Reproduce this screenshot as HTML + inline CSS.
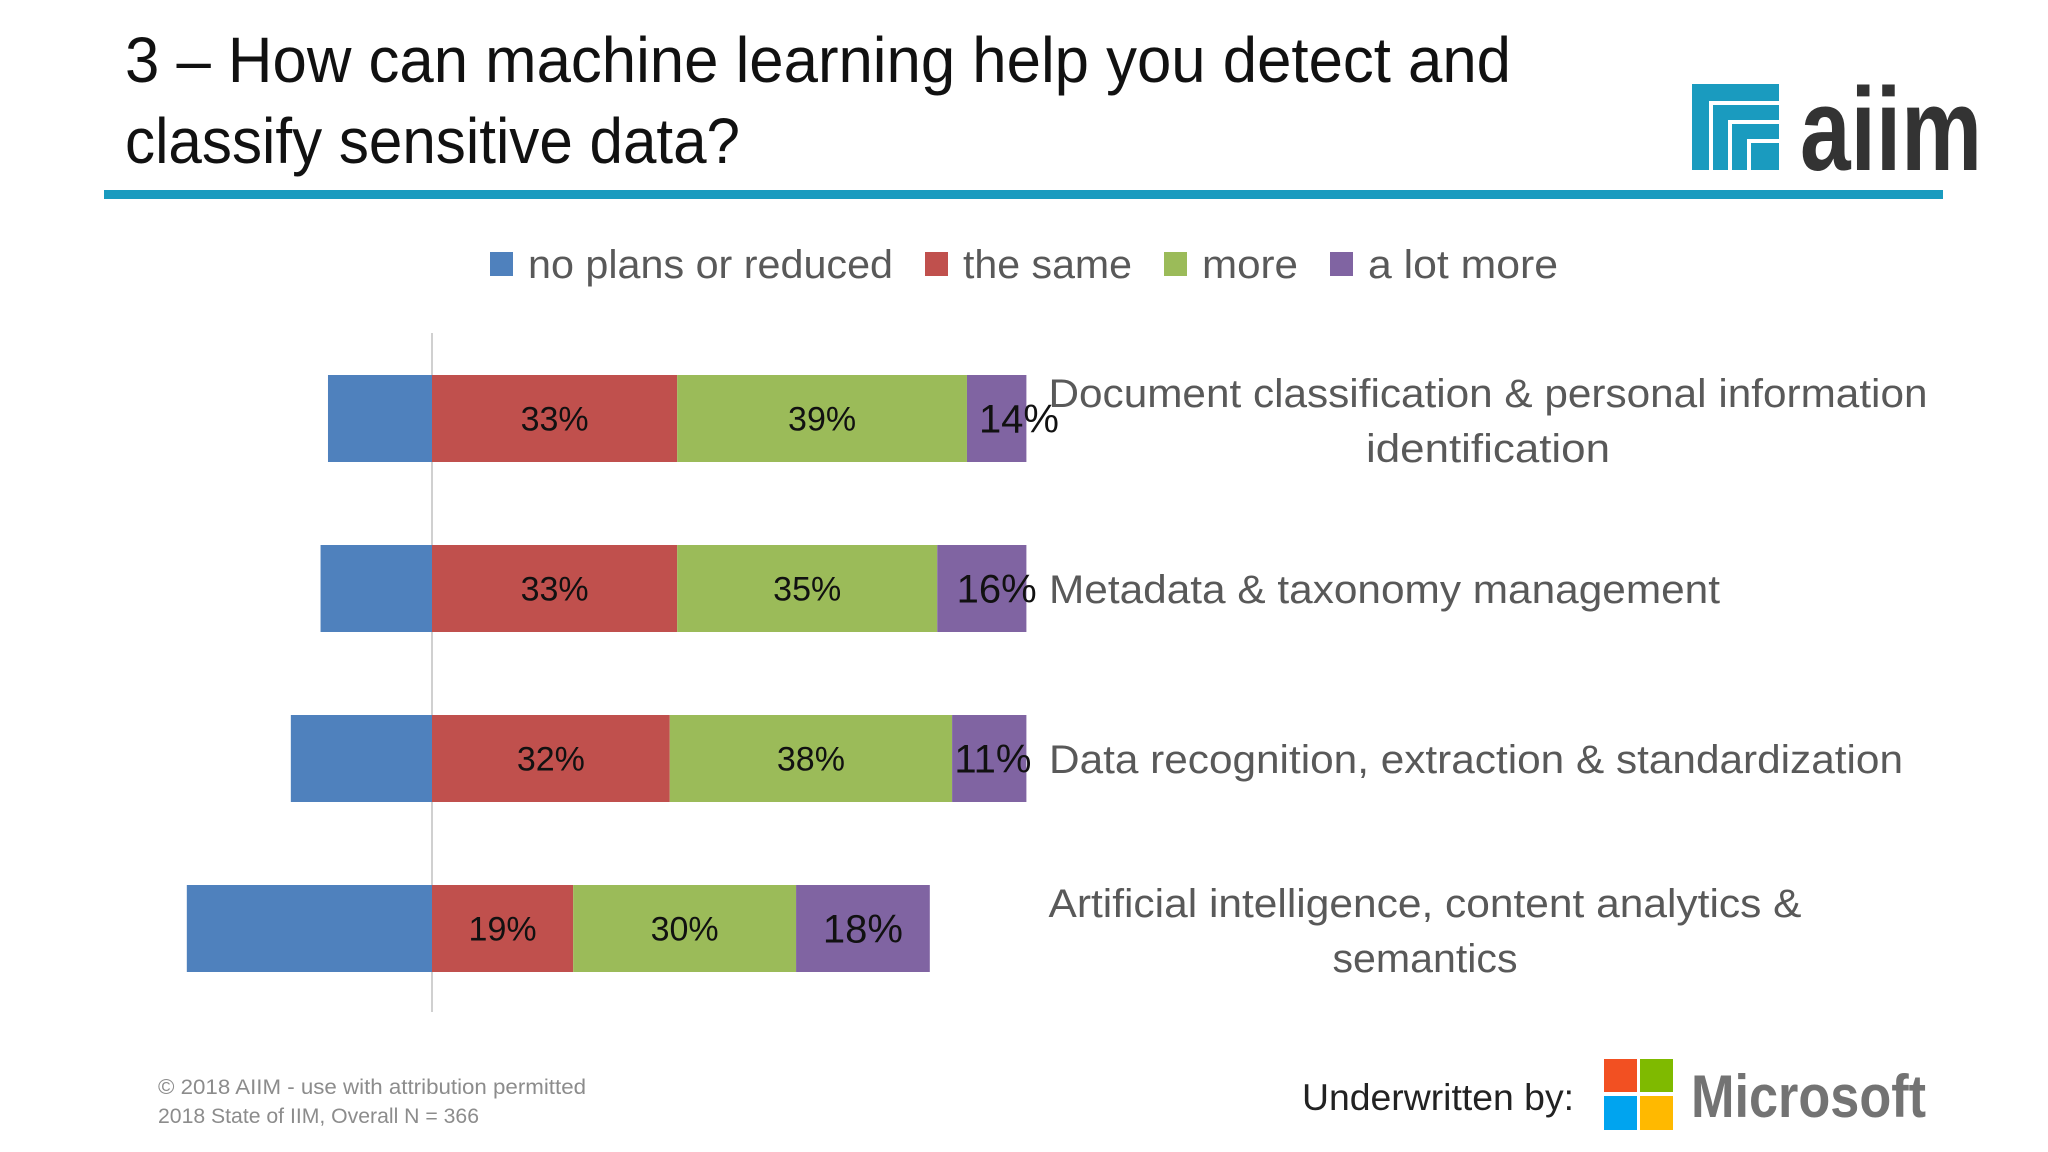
<!DOCTYPE html>
<html><head><meta charset="utf-8"><style>html,body{margin:0;padding:0;background:#fff}svg{display:block}</style></head>
<body>
<svg id="chart" xmlns="http://www.w3.org/2000/svg" width="2048" height="1152" viewBox="0 0 2048 1152" font-family="'Liberation Sans', sans-serif">
<rect width="2048" height="1152" fill="#fff"/>
<g fill="#111" font-size="64">
<text x="125" y="82" textLength="1386" lengthAdjust="spacingAndGlyphs">3 – How can machine learning help you detect and</text>
<text x="125" y="163" textLength="615" lengthAdjust="spacingAndGlyphs">classify sensitive data?</text>
</g>
<rect x="104" y="190" width="1839" height="9" fill="#1a9bbf"/>
<g>
<rect x="1692" y="84" width="87" height="86" fill="#1a9bbf"/>
<path d="M1711 170 V103 H1779 M1730 170 V122 H1779 M1749 170 V141 H1779" stroke="#fff" stroke-width="4" fill="none"/>
<text x="1800" y="170" font-size="118" font-weight="bold" fill="#333" textLength="182" lengthAdjust="spacingAndGlyphs">aiim</text>
</g>
<g id="legend" font-size="40" fill="#595959"></g>
<line x1="432" y1="333" x2="432" y2="1012" stroke="#d0d0d0" stroke-width="2"/>
<g id="bars"></g>
<g id="cats" font-size="40" fill="#595959"></g>
<g font-size="21" fill="#8c8c8c">
<text x="158" y="1094" textLength="428" lengthAdjust="spacingAndGlyphs">© 2018 AIIM - use with attribution permitted</text>
<text x="158" y="1123" textLength="321" lengthAdjust="spacingAndGlyphs">2018 State of IIM, Overall N = 366</text>
</g>
<text x="1302" y="1110" font-size="37" fill="#222" textLength="272" lengthAdjust="spacingAndGlyphs">Underwritten by:</text>
<g>
<rect x="1604" y="1059" width="33" height="33" fill="#f25022"/>
<rect x="1640" y="1059" width="33" height="33" fill="#7fba00"/>
<rect x="1604" y="1096" width="33" height="34" fill="#00a4ef"/>
<rect x="1640" y="1096" width="33" height="34" fill="#ffb900"/>
<text x="1691" y="1117" font-size="60" font-weight="bold" fill="#737373" textLength="235" lengthAdjust="spacingAndGlyphs">Microsoft</text>
</g>
</svg>
<script>
const categories = ["Document classification & personal information identification","Metadata & taxonomy management","Data recognition, extraction & standardization","Artificial intelligence, content analytics & semantics"];
const seriesNames = ["no plans or reduced","the same","more","a lot more"];
const noPlans = [14, 15, 19, 33];
const theSame = [33, 33, 32, 19];
const more = [39, 35, 38, 30];
const aLotMore = [14, 16, 11, 18];
const colors = ["#4f81bd","#c0504d","#9bbb59","#8064a2"];
const catLines = [["Document classification & personal information","identification"],["Metadata & taxonomy management"],["Data recognition, extraction & standardization"],["Artificial intelligence, content analytics &","semantics"]];
const NS = "http://www.w3.org/2000/svg";
const x0 = 432, pxPer = 7.43, axisMax = 80;
const xs = v => x0 + Math.min(v, axisMax) * pxPer;
const xu = v => x0 + v * pxPer;
const bandTop = 375, step = 170, barH = 87;
const bars = document.getElementById('bars');
function mk(tag, attrs, parent){const e=document.createElementNS(NS,tag);for(const k in attrs)e.setAttribute(k,attrs[k]);parent.appendChild(e);return e;}
categories.forEach((c,i)=>{
  const y = bandTop + i*step;
  const b = mk('rect',{x:xs(-noPlans[i]),y:y,width:xs(0)-xs(-noPlans[i]),height:barH,fill:colors[0]},bars);
  
  
  const pos=[theSame[i],more[i],aLotMore[i]];
  let acc=0;
  pos.forEach((v,j)=>{
    const r = mk('rect',{x:xs(acc),y:y,width:Math.max(0,xs(acc+v)-xs(acc)),height:barH,fill:colors[j+1]},bars);
    
    
    const t = mk('text',{x:xu(acc+v/2),y:y+barH/2+(j==2?14:12),'text-anchor':'middle','font-size':j==2?40:34,fill:'#111'},bars);
    t.textContent = v+'%';
    
    
    acc+=v;
  });
});
const cats=document.getElementById('cats');
const catPos=[[1488,407,55],[1049,603,0],[1049,773,0],[1425,917,55]];
const catW=[[879,244],[671],[854],[753,185]];
catLines.forEach((lines,i)=>{
  lines.forEach((l,k)=>{
    const p=catPos[i];
    const t=mk('text',{x:p[0],y:p[1]+k*p[2],'text-anchor':(i==1||i==2)?'start':'middle',textLength:catW[i][k],lengthAdjust:'spacingAndGlyphs'},cats);
    t.textContent=l;
    
    
  });
});
const lg=document.getElementById('legend');
const lgX=[490,925,1164,1330];
const lgW=[365,169,96,190];
seriesNames.forEach((s,i)=>{
  const r=mk('rect',{x:lgX[i],y:252,width:23,height:24,fill:colors[i]},lg);
  
  
  const t=mk('text',{x:lgX[i]+38,y:278,textLength:lgW[i],lengthAdjust:'spacingAndGlyphs'},lg);
  t.textContent=s;
  
  
});
</script>
</body></html>
